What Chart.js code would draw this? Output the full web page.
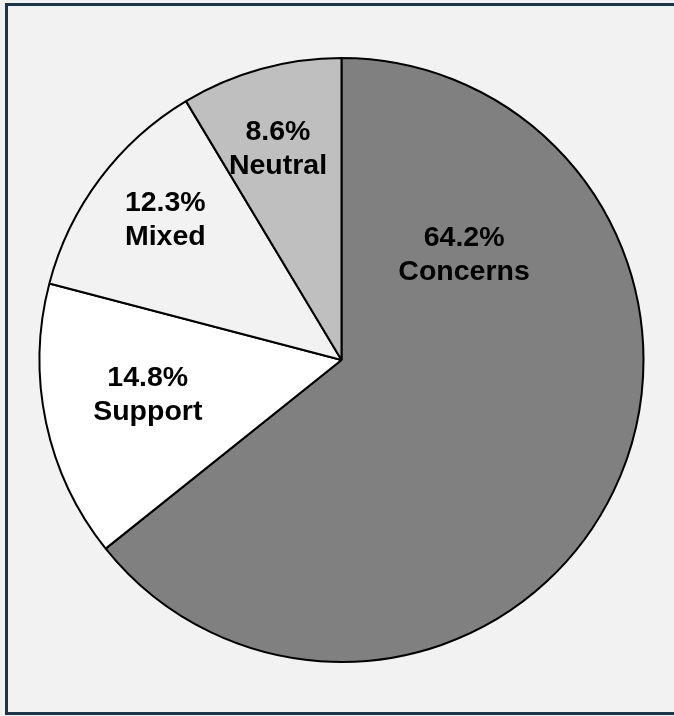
<!DOCTYPE html>
<html>
<head>
<meta charset="utf-8">
<script src="https://cdn.jsdelivr.net/npm/chart.js@4/dist/chart.umd.min.js"></script>
<style>
  html, body { margin: 0; padding: 0; background: #f2f2f2; overflow: hidden; }
  canvas { display: block; }
</style>
</head>
<body>
<canvas id="c" width="674" height="716"></canvas>
<script>
const categories = ["Concerns", "Support", "Mixed", "Neutral"];
const shares = [64.2, 14.8, 12.3, 8.6];
const sliceColors = ["#808080", "#ffffff", "#f2f2f2", "#bfbfbf"];

// label placement relative to each slice: angle shift from mid-angle (deg), radius fraction
const labelPlacement = [
  { shift: -66.2, frac: 0.534 },
  { shift: 1.7, frac: 0.652 },
  { shift: 1.6, frac: 0.745 },
  { shift: -1.3, frac: 0.728 }
];

const frame = {
  id: 'frame',
  beforeDraw(chart) {
    const ctx = chart.ctx;
    const W = chart.width, H = chart.height;
    ctx.save();
    ctx.fillStyle = '#f2f2f2';
    ctx.fillRect(0, 0, W, H);
    ctx.fillStyle = '#1c3547';
    ctx.fillRect(5, 3, W - 5, 3);      // top
    ctx.fillRect(5, 3, 3, H - 6);      // left
    ctx.fillRect(5, H - 4, W - 5, 3);  // bottom
    ctx.restore();
  }
};

const sliceLabels = {
  id: 'sliceLabels',
  afterDatasetsDraw(chart) {
    const ctx = chart.ctx;
    const meta = chart.getDatasetMeta(0);
    ctx.save();
    ctx.font = 'bold 28.5px "Liberation Sans", Arial, sans-serif';
    ctx.fillStyle = '#000000';
    ctx.textAlign = 'center';
    ctx.textBaseline = 'middle';
    meta.data.forEach((arc, i) => {
      const p = arc.getProps(['x', 'y', 'startAngle', 'endAngle', 'outerRadius'], true);
      const mid = (p.startAngle + p.endAngle) / 2 + labelPlacement[i].shift * Math.PI / 180;
      const r = p.outerRadius * labelPlacement[i].frac;
      const cx = p.x + Math.cos(mid) * r;
      const cy = p.y + Math.sin(mid) * r;
      const v = chart.data.datasets[0].data[i];
      ctx.fillText(v.toFixed(1) + '%', cx, cy - 17);
      ctx.fillText(chart.data.labels[i], cx, cy + 17);
    });
    ctx.restore();
  }
};

new Chart(document.getElementById('c'), {
  type: 'pie',
  data: {
    labels: categories,
    datasets: [{
      data: shares,
      backgroundColor: sliceColors,
      borderColor: '#000000',
      borderWidth: 2
    }]
  },
  options: {
    responsive: false,
    animation: false,
    layout: { padding: { left: 38.5, right: 29.5, top: 57, bottom: 53 } },
    plugins: {
      legend: { display: false },
      tooltip: { enabled: false }
    }
  },
  plugins: [frame, sliceLabels]
});
</script>
</body>
</html>
